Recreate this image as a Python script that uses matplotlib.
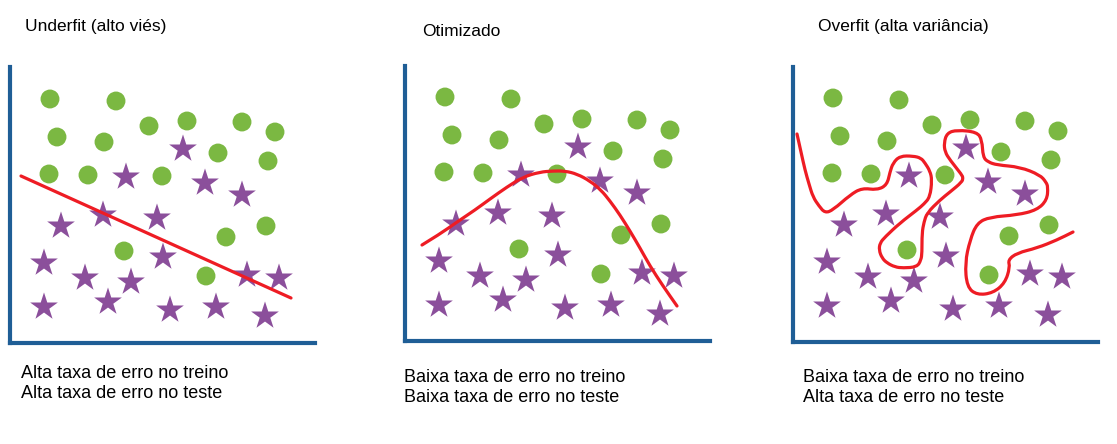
import matplotlib.pyplot as plt
from matplotlib.path import Path
from matplotlib.patches import PathPatch

plt.rcParams['font.family'] = ['Liberation Sans', 'DejaVu Sans']

# points, same layout in the three panels (units = pixels from the axis corner)
circle_x = [40, 106, 139, 177, 232, 265, 47, 94, 208, 258, 39, 78, 152, 256, 216, 114, 196]
circle_y = [244, 242, 217, 222, 221, 211, 206, 201, 190, 182, 169, 168, 167, 117, 106, 92, 67]
star_x = [173, 116, 195, 232, 51, 93, 147, 153, 34, 75, 121, 98, 34, 160, 206, 237, 269, 255]
star_y = [194, 166, 160, 148, 117, 128, 125, 86, 80, 65, 61, 41, 36, 33, 36, 68, 65, 27]

# decision boundaries
under_x = [11, 281]
under_y = [167, 45]
opt_x = [17, 35, 52, 70, 85, 102, 118, 135, 148, 160, 172, 185, 196, 205, 215, 225, 235, 245, 258, 272]
opt_y = [96, 107, 119, 131, 142, 154, 164, 169, 170, 170, 167, 160, 151, 140, 126, 110, 93, 75, 55, 35]
over_x = [4, 8, 12, 16, 20, 26, 32, 40, 57, 69,
          84, 94, 97, 100, 107, 120, 128, 132, 137, 139,
          137, 131, 124, 107, 92, 87, 86, 89, 94, 102,
          110, 124, 128, 129, 129, 131, 134, 147, 157, 169,
          170, 169, 157, 152, 151, 154, 164, 184, 189, 190,
          195, 204, 227, 247, 253, 255, 254, 244, 224, 197,
          184, 177, 172, 174, 184, 200, 212, 217, 215, 224,
          244, 264, 280]
over_y = [208, 190, 172, 158, 145, 136, 129, 132, 147, 154,
          152, 157, 170, 179, 186, 186, 184, 179, 171, 162,
          145, 138, 132, 119, 105, 99, 92, 84, 79, 75,
          74, 75, 82, 89, 109, 120, 129, 142, 150, 160,
          164, 167, 182, 190, 199, 209, 212, 210, 202, 185,
          180, 177, 175, 167, 160, 155, 142, 132, 127, 125,
          119, 102, 79, 55, 47, 49, 59, 75, 82, 89,
          94, 102, 110]

titles = ['Underfit (alto viés)', 'Otimizado', 'Overfit (alta variância)']
notes = [['Alta taxa de erro no treino', 'Alta taxa de erro no teste'],
         ['Baixa taxa de erro no treino', 'Baixa taxa de erro no teste'],
         ['Baixa taxa de erro no treino', 'Alta taxa de erro no teste']]
curves = [(under_x, under_y), (opt_x, opt_y), (over_x, over_y)]


def smooth_path(xs, ys):
    # traced points used as quadratic bezier control points
    pts = list(zip(xs, ys))
    verts = [pts[0]]
    codes = [Path.MOVETO]
    for k in range(1, len(pts) - 1):
        mid = ((pts[k][0] + pts[k + 1][0]) / 2, (pts[k][1] + pts[k + 1][1]) / 2)
        verts += [pts[k], mid]
        codes += [Path.CURVE3, Path.CURVE3]
    verts.append(pts[-1])
    codes.append(Path.LINETO)
    return Path(verts, codes)


W, H = 1117, 444
fig = plt.figure(figsize=(W / 100, H / 100), dpi=100)

# panel boxes in pixels: left, bottom (from top), top (from top)
boxes = [(10, 343, 67), (405, 341, 66), (793, 342, 67)]
title_pos = [(25, 27), (422, 32), (818, 27)]
note_pos = [(21, 373, 393), (404, 378, 397), (803, 378, 397)]

for i in range(3):
    left, bottom, top = boxes[i]
    ax = fig.add_axes([left / W, (H - bottom) / H, 305 / W, (bottom - top) / H])
    ax.set_xlim(0, 305)
    ax.set_ylim(0, bottom - top)
    ax.scatter(circle_x, circle_y, s=185, color='#7bb842', edgecolors='none', zorder=2)
    ax.scatter(star_x, star_y, s=440, marker='*', color='#8b4f9b', edgecolors='none', zorder=2)
    cx, cy = curves[i]
    ax.add_patch(PathPatch(smooth_path(cx, cy), fill=False, edgecolor='#ee1c24', lw=2.3,
                           capstyle='round', joinstyle='round', zorder=3))
    for side in ['top', 'right']:
        ax.spines[side].set_visible(False)
    for side in ['left', 'bottom']:
        ax.spines[side].set_color('#1f5e96')
        ax.spines[side].set_linewidth(3)
    ax.set_xticks([])
    ax.set_yticks([])

    tx, ty = title_pos[i]
    fig.text(tx / W, 1 - ty / H, titles[i], fontsize=12.5, va='center', ha='left')
    nx, ny1, ny2 = note_pos[i]
    fig.text(nx / W, 1 - ny1 / H, notes[i][0], fontsize=13, va='center', ha='left')
    fig.text(nx / W, 1 - ny2 / H, notes[i][1], fontsize=13, va='center', ha='left')

fig.savefig('out.png', dpi=100, facecolor='white')
